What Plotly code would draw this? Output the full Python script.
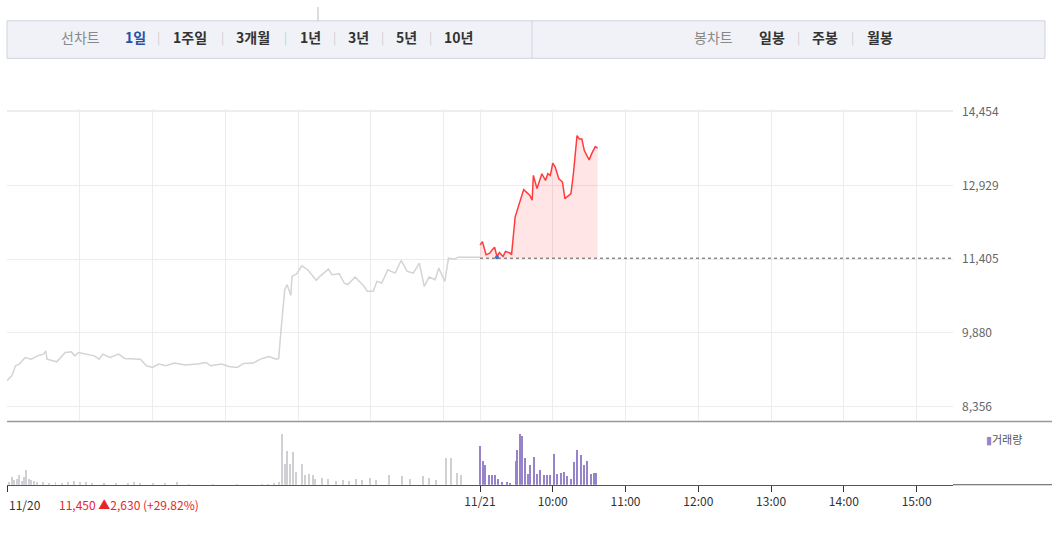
import plotly.graph_objects as go

# previous-day price (minutes relative to today 09:00)
prev_t = [-390,-386,-383,-380,-375,-370,-365,-360,-358,-357,-349,-342,-337,-334,-331,-324,-318,-314,-311,-305,-298,-293,-285,-280,-275,-270,-265,-259,-252,-243,-233,-226,-222,-213,-207,-200,-195,-187,-181,-174,-168,-166,-164,-161,-159,-156,-155,-151,-147,-142,-135,-132,-125,-122,-116,-112,-109,-103,-96,-93,-88,-85,-81,-76,-70,-65,-60,-55,-50,-46,-42,-37,-34,-29,-26,-21,-18,-13,0]
prev_p = [8894,8997,9202,9236,9373,9339,9407,9442,9510,9339,9284,9476,9489,9407,9476,9442,9407,9339,9442,9373,9442,9353,9339,9339,9202,9168,9236,9202,9257,9216,9236,9270,9202,9236,9188,9168,9250,9257,9339,9394,9339,9353,9955,10776,10879,10653,11050,11104,11269,11187,10967,11050,11200,11084,11104,10913,10879,11036,10858,10742,10742,10947,10913,11187,11118,11378,11152,11118,11323,10844,11036,10981,11221,10947,11426,11405,11446,11446,11446]

# today's price
today_t = [0,2,5,8,10,12,14,16,19,21,25,26,29,33,36,41,43,44,47,51,54,56,58,60,62,65,68,70,73,75,77,80,82,84,86,90,92,95,97]
today_p = [11700,11768,11495,11529,11597,11652,11460,11542,11460,11563,11529,11495,12281,12624,12843,12726,12624,13137,12863,13171,13034,13171,13137,13390,13308,13068,12999,12658,12726,12760,13171,13958,13890,13890,13650,13458,13582,13732,13698]
base_price = 11425

# volumes (relative units)
prev_vt = [-388,-386,-384,-382,-380,-378,-376,-374,-372,-370,-368,-365,-360,-355,-350,-345,-340,-335,-330,-325,-320,-310,-300,-290,-285,-280,-270,-260,-250,-240,-220,-200,-180,-175,-170,-166,
           -163,-161,-159,-157,-154,-152,-147,-144,-141,-138,-136,-130,-125,-119,-113,-108,-102,-97,-91,-86,-75,-64,-58,-47,-42,-36,-28,-24,-19,-16]
prev_v = [3,8,5,6,10,4,8,16,6,5,4,3,3,2,3,2,3,4,3,3,2,2,2,2,3,2,2,2,3,1,1,1,1,1,2,3,
          53,22,35,22,34,14,22,11,12,11,6,7,6,4,5,4,6,5,7,5,10,9,6,9,7,5,28,28,13,11]
today_vt = [0,2.7,4.4,7.2,9.9,12.7,14.9,18.2,22.1,24.9,29.3,30.4,33.2,34.8,37,39.3,41.5,44.8,47,49.8,52.5,55.3,58.1,60.8,63.6,66.4,69.1,71.9,74.7,77.4,80.2,83,85.7,88.5,91.3,94,95.7]
today_v = [40,25,21,10,10,10,6,3,3,2,25,36,53,51,28,12,21,29,12,16,10,10,11,32,12,13,14,9,6,24,36,31,21,25,12,13,13]

price_ticks = [8356, 9880, 11405, 12929, 14454]
grid_x = [-390,-330,-270,-210,-150,-90,-30,0,60,120,180,240,300,360]
xt_vals = [-390, 0, 60, 120, 180, 240, 300, 360]
xt_text = ["", "11/21", "10:00", "11:00", "12:00", "13:00", "14:00", "15:00"]

FONT = "Noto Sans CJK KR, Roboto, sans-serif"
W, H = 1052, 542
fig = go.Figure()

fig.add_trace(go.Scatter(x=prev_t, y=prev_p, mode="lines", line=dict(color="#d3d3d8", width=1.5), hoverinfo="skip"))
fig.add_trace(go.Scatter(x=[0, 390], y=[base_price, base_price], mode="lines", line=dict(color="#555", width=1, dash="dot"), hoverinfo="skip"))
fig.add_trace(go.Scatter(x=[today_t[0], today_t[-1]], y=[base_price, base_price], mode="lines", line=dict(width=0), hoverinfo="skip"))
fig.add_trace(go.Scatter(x=today_t, y=today_p, mode="lines", line=dict(color="#ff3b3b", width=1.5),
                         fill="tonexty", fillcolor="rgba(255,80,90,0.15)", hoverinfo="skip"))
fig.add_trace(go.Scatter(x=[14], y=[11446], mode="markers", marker=dict(color="#3b6fd0", size=4), hoverinfo="skip"))

fig.add_trace(go.Bar(x=prev_vt, y=prev_v, width=0.8, marker=dict(color="#cfcfd4", line=dict(width=0)), xaxis="x2", yaxis="y2"))
fig.add_trace(go.Bar(x=today_vt, y=today_v, width=0.8, marker=dict(color="#9683c9", line=dict(width=0)), xaxis="x2", yaxis="y2"))

xd = [7 / W, 953 / W]
fig.update_layout(
    width=W, height=H, margin=dict(l=0, r=0, t=0, b=0), showlegend=False,
    paper_bgcolor="white", plot_bgcolor="white", bargap=0,
    font=dict(family=FONT, color="#555", size=12),
    xaxis=dict(domain=xd, range=[-390, 390], tickvals=grid_x, showticklabels=False, showgrid=True,
               gridcolor="#ececec", zeroline=False, showline=False),
    yaxis=dict(domain=[(H - 418) / H, (H - 103) / H], range=[8089, 14516], side="right", tickvals=price_ticks,
               ticktext=[f"{v:,}" for v in price_ticks], showgrid=True, gridcolor="#ececec", zeroline=False,
               tickfont=dict(size=12, color="#666"), ticks="", ticklabelstandoff=8),
    xaxis2=dict(domain=xd, range=[-390, 390], anchor="y2", tickvals=xt_vals, ticktext=xt_text, ticks="outside",
                ticklen=6, tickcolor="#333", showline=True, linecolor="#555", showgrid=False, zeroline=False,
                tickfont=dict(size=12, color="#333")),
    yaxis2=dict(domain=[(H - 484) / H, (H - 421) / H], range=[0, 64], showticklabels=False, showgrid=False,
                zeroline=False),
)

# pane separators
fig.add_shape(type="line", xref="paper", yref="paper", x0=7 / W, x1=1, y0=(H - 420) / H, y1=(H - 420) / H,
              line=dict(color="#999", width=1.5))
fig.add_shape(type="line", xref="paper", yref="paper", x0=953 / W, x1=1, y0=(H - 484) / H, y1=(H - 484) / H,
              line=dict(color="#555", width=1))
fig.add_shape(type="line", xref="paper", yref="paper", x0=7 / W, x1=953 / W, y0=(H - 105) / H, y1=(H - 105) / H,
              line=dict(color="#ececec", width=1))

# header bar
fig.add_shape(type="rect", xref="paper", yref="paper", x0=7 / W, x1=1045 / W, y0=(H - 52) / H, y1=(H - 14) / H,
              fillcolor="#f0f2f7", line=dict(color="#cfd3dc", width=1), layer="below")
fig.add_shape(type="line", xref="paper", yref="paper", x0=532 / W, x1=532 / W, y0=(H - 52) / H, y1=(H - 14) / H,
              line=dict(color="#cfd3dc", width=1))
fig.add_shape(type="line", xref="paper", yref="paper", x0=318 / W, x1=318 / W, y0=(H - 14) / H, y1=1,
              line=dict(color="#bbb", width=1))

def txt(x, y, s, color="#333", size=14, bold=True, anchor="center"):
    fig.add_annotation(x=x / W, y=(H - y) / H, xref="paper", yref="paper", text=f"<b>{s}</b>" if bold else s,
                       showarrow=False, xanchor=anchor, yanchor="middle", font=dict(size=size, color=color, family=FONT))

menu_left = [(80, "선차트", "#888", False), (135, "1일", "#2a4fa8", True), (190, "1주일", "#333", True),
             (253, "3개월", "#333", True), (310, "1년", "#333", True), (358, "3년", "#333", True),
             (406, "5년", "#333", True), (458, "10년", "#333", True),
             (713, "봉차트", "#888", False), (772, "일봉", "#333", True), (825, "주봉", "#333", True), (880, "월봉", "#333", True)]
for x, s, c, b in menu_left:
    txt(x, 30, s, c, 14, b)
for x in [158, 222, 285, 334, 382, 430, 798, 852]:
    txt(x, 30, "|", "#ccc", 12, False)

txt(7, 504, "11/20", "#333", 12, False, "left")
txt(57, 504, "11,450 ▲2,630 (+29.82%)", "#e8262a", 12, False, "left")
txt(984, 438, "<span style='color:#9683c9'>▮</span>거래량", "#555", 11, False, "left")

fig.write_html("out.html", config={"displayModeBar": False})
with open("out.html", encoding="utf-8") as f:
    html = f.read()
html = html.replace("<body>", "<body style=\"margin:0;padding:0;overflow:hidden\">", 1)
with open("out.html", "w", encoding="utf-8") as f:
    f.write(html)
